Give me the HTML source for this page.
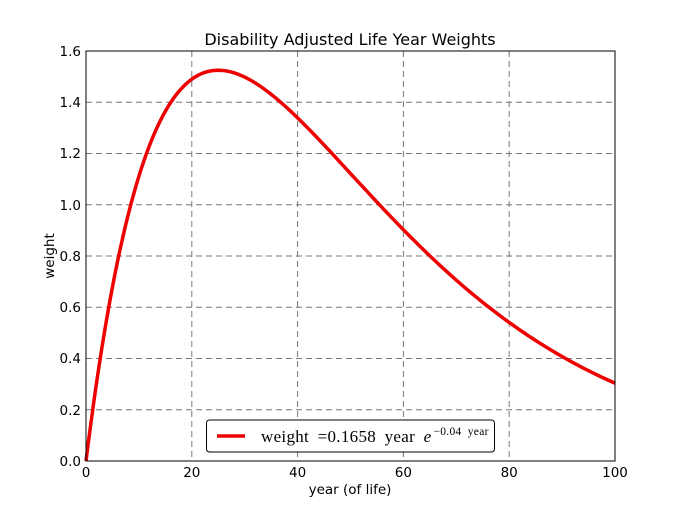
<!DOCTYPE html>
<html><head><style>body{margin:0;background:#fff}svg{display:block}text{font-family:"DejaVu Sans","Liberation Sans",sans-serif}</style></head><body>
<svg width="683" height="512" xmlns="http://www.w3.org/2000/svg">
<rect width="683" height="512" fill="#fff"/>
<g stroke="#777" stroke-dasharray="6,4" stroke-width="1">
<line x1="191.8" y1="51" x2="191.8" y2="461"/><line x1="297.6" y1="51" x2="297.6" y2="461"/><line x1="403.4" y1="51" x2="403.4" y2="461"/><line x1="509.2" y1="51" x2="509.2" y2="461"/>
<line x1="86" y1="409.75" x2="615" y2="409.75"/><line x1="86" y1="358.5" x2="615" y2="358.5"/><line x1="86" y1="307.25" x2="615" y2="307.25"/><line x1="86" y1="256" x2="615" y2="256"/><line x1="86" y1="204.75" x2="615" y2="204.75"/><line x1="86" y1="153.5" x2="615" y2="153.5"/><line x1="86" y1="102.25" x2="615" y2="102.25"/>
</g>
<polyline id="c" fill="none" stroke="#e00" stroke-width="3.5" points=""/>
<rect x="86" y="51" width="529" height="410" fill="none" stroke="#000" stroke-width="1"/>
<g font-size="13.5" fill="#000" text-anchor="end">
<text x="81" y="466">0.0</text><text x="81" y="415">0.2</text><text x="81" y="363">0.4</text><text x="81" y="312">0.6</text><text x="81" y="261">0.8</text><text x="81" y="210">1.0</text><text x="81" y="158">1.2</text><text x="81" y="107">1.4</text><text x="81" y="56">1.6</text>
</g>
<g font-size="13.5" fill="#000" text-anchor="middle">
<text x="86" y="477">0</text><text x="191.8" y="477">20</text><text x="297.6" y="477">40</text><text x="403.4" y="477">60</text><text x="509.2" y="477">80</text><text x="615" y="477">100</text>
<text x="350" y="494">year (of life)</text>
<text x="350" y="45" font-size="16">Disability Adjusted Life Year Weights</text>
<text transform="translate(54,256) rotate(-90)">weight</text>
</g>
<rect x="206.5" y="420" width="288" height="32" rx="3" fill="#fff" stroke="#000"/>
<line x1="217" y1="436" x2="245" y2="436" stroke="#e00" stroke-width="3.5"/>
<text x="261" y="442" style="font-family:'Liberation Serif',serif;font-size:17px;word-spacing:4px;letter-spacing:0.3px">weight =0.1658 year <tspan style="font-style:italic">e</tspan><tspan style="font-size:11.5px;word-spacing:3px" dy="-7" dx="2">−0.04 year</tspan></text>
<script>
var p=[];for(var x=0;x<=100;x+=0.5){p.push((86+x*5.29).toFixed(2)+","+(461-0.1658*x*Math.exp(-0.04*x)*256.25).toFixed(2));}
document.getElementById("c").setAttribute("points",p.join(" "));
</script>
</svg>
</body></html>
